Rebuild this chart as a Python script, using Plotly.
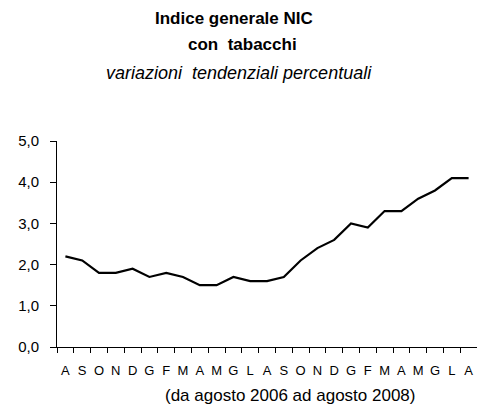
import plotly.graph_objects as go

month_labels = ["A", "S", "O", "N", "D", "G", "F", "M", "A", "M", "G", "L",
                "A", "S", "O", "N", "D", "G", "F", "M", "A", "M", "G", "L", "A"]
values = [2.2, 2.1, 1.8, 1.8, 1.9, 1.7, 1.8, 1.7, 1.5, 1.5, 1.7, 1.6,
          1.6, 1.7, 2.1, 2.4, 2.6, 3.0, 2.9, 3.3, 3.3, 3.6, 3.8, 4.1, 4.1]
y_ticks = [0, 1, 2, 3, 4, 5]
y_tick_text = ["0,0", "1,0", "2,0", "3,0", "4,0", "5,0"]

FONT = "Liberation Sans Narrow, Arial Narrow, Liberation Sans, Arial, sans-serif"
x_idx = list(range(len(values)))

W, H = 477, 406
ML, MR, MT, MB = 57, 0, 141, 59
plot_h = H - MT - MB
plot_w = W - ML - MR

fig = go.Figure()
fig.add_trace(go.Scatter(x=x_idx, y=values, mode="lines",
                         line=dict(color="black", width=2.2), hoverinfo="skip",
                         cliponaxis=False))

fig.update_layout(
    width=W, height=H,
    margin=dict(l=ML, r=MR, t=MT, b=MB, autoexpand=False),
    paper_bgcolor="white", plot_bgcolor="white",
    showlegend=False,
    font=dict(family=FONT, color="black"),
    xaxis=dict(
        range=[-0.5, len(values) - 0.5],
        tickvals=x_idx, ticktext=month_labels,
        ticks="", showgrid=False, zeroline=False, automargin=False,
        showline=True, linecolor="black", linewidth=1,
        ticklabelstandoff=11,
        tickfont=dict(size=13, family=FONT, color="black"),
        minor=dict(tick0=-0.5, dtick=1, ticks="outside", ticklen=5,
                   tickcolor="black", tickwidth=1, showgrid=False),
    ),
    yaxis=dict(
        range=[0, 5], tickvals=y_ticks, ticktext=y_tick_text,
        ticks="outside", ticklen=6, tickcolor="black",
        showgrid=False, zeroline=False, automargin=False,
        showline=True, linecolor="black", linewidth=1,
        ticklabelstandoff=8,
        tickfont=dict(size=15, family=FONT, color="black"),
    ),
)

def add_text(text, px, py, size):
    fig.add_annotation(text=text, xref="paper", yref="paper",
                       x=(px - ML) / plot_w, y=(H - MB - py) / plot_h,
                       xanchor="center", yanchor="middle", showarrow=False,
                       font=dict(size=size, family=FONT, color="black"))

add_text("<b>Indice generale NIC</b>", 234, 18, 17)
add_text("<b>con  tabacchi</b>", 242, 44, 17)
add_text("<i>variazioni  tendenziali percentuali</i>", 239, 73, 18)
add_text("(da agosto 2006 ad agosto 2008)", 290, 395, 17)

fig.write_html("out.html",
               config={"displayModeBar": False},
               post_script="document.body.style.margin='0';document.body.style.padding='0';")
